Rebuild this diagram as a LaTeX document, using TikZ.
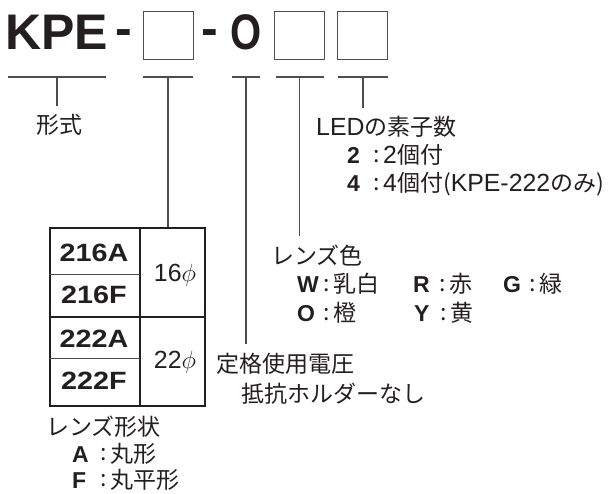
\documentclass[tikz,border=0pt]{standalone}
\usepackage{fontspec}
\setmainfont{Noto Sans CJK JP}
\newfontfamily\latfont[Scale=1.08]{Liberation Sans}
\newfontfamily\codefont[FakeStretch=1.15]{Liberation Sans}
\newfontfamily\headfont{Liberation Sans}
\usetikzlibrary{calc}

\definecolor{ink}{HTML}{231F20}
\definecolor{rule}{HTML}{4D4D4D}

\newcommand\lat[1]{{\latfont #1}}
% letter : text
\newcommand\opt[3][22pt]{\makebox[#1][l]{\headfont\bfseries #2}\makebox[14pt]{\raisebox{1.5pt}{:}}#3}

\tikzset{
  every node/.style={inner sep=0pt, text=ink},
  lbl/.style={font=\fontsize{23}{28}\selectfont, anchor=base west, outer ysep=9pt},
  code/.style={font=\fontsize{25}{30}\selectfont\codefont\bfseries, anchor=base},
  head/.style={font=\fontsize{50}{50}\selectfont\headfont\bfseries},
  slot/.style={draw=rule, line width=1pt, minimum width=50pt, minimum height=48pt},
  tee/.style={draw=rule, line width=1.1pt},
}

\begin{document}
\begin{tikzpicture}[x=1pt, y=-1pt]
  \useasboundingbox (0,0) rectangle (613,494);

  % model code
  \node[head, anchor=base west] (kpe) at (5,50) {KPE};
  \node[head, anchor=base] (dash1) at (124,46) {-};
  \node[slot] (box1) at (168,35.5) {};
  \node[head, anchor=base] (dash2) at (210,46) {-};
  \node[head, anchor=base] (zero) at (246,50) {\scalebox{0.8}[1]{O}};
  \node[slot] (box2) at (299,35.5) {};
  \node[slot] (box3) at (362,35.5) {};

  % tee bars
  \coordinate (m1) at (57,77);
  \coordinate (m2) at (168,77);
  \coordinate (m3) at (246,77);
  \coordinate (m4) at (299.5,77);
  \coordinate (m5) at (363,77);
  \draw[tee] ($(m1)+(-49,0)$) -- ($(m1)+(49,0)$);
  \draw[tee] ($(m2)+(-25,0)$) -- ($(m2)+(25,0)$);
  \draw[tee] ($(m3)+(-14,0)$) -- ($(m3)+(14,0)$);
  \draw[tee] ($(m4)+(-24,0)$) -- ($(m4)+(24,0)$);
  \draw[tee] ($(m5)+(-25,0)$) -- ($(m5)+(25,0)$);

  % type
  \node[lbl] (form) at (36,134) {形式};
  \draw[tee] (m1) -- (m1 |- form.north);

  % LED count
  \node[lbl] (led) at (316,136) {\lat{LED}の素子数};
  \node[lbl] (led2) at (347,164) {\opt{2}{\lat{2}個付}};
  \node[lbl] (led4) at (347,192) {\opt{4}{\lat{4}個付(\lat{KPE-222}のみ)}};
  \draw[tee] (m5) -- (m5 |- led.north);

  % lens colour
  \node[lbl] (color) at (271,265) {レンズ色};
  \node[lbl] (cw) at (297,293) {\opt{W}{乳白}};
  \node[lbl] (cr) at (413,293) {\opt{R}{赤}};
  \node[lbl] (cg) at (503,293) {\opt{G}{緑}};
  \node[lbl] (co) at (297,322) {\opt{O}{橙}};
  \node[lbl] (cy) at (414,322) {\opt{Y}{黄}};
  \draw[tee] (m4) -- (m4 |- color.north);

  % voltage
  \node[lbl] (volt) at (216,372) {定格使用電圧};
  \node[lbl] (volt2) at (241,402) {抵抗ホルダーなし};
  \draw[tee] (m3) -- (m3 |- volt.north);

  % size table
  \node[draw=ink, line width=1.8pt, minimum width=155pt, minimum height=178pt,
        anchor=north west] (tbl) at (49,227) {};
  \draw[draw=ink, line width=1.4pt] (140,227) -- (140,405);
  \draw[draw=ink, line width=1.4pt] (49,317) -- (204,317);
  \draw[draw=rule, line width=.8pt] (49,274) -- (140,274);
  \draw[draw=rule, line width=.8pt] (49,358) -- (140,358);
  \draw[tee] (m2) -- (m2 |- tbl.north);

  \node[code] (t216a) at (94,262) {216A};
  \node[code] (t216f) at (94,304) {216F};
  \node[code] (t222a) at (94,347) {222A};
  \node[code] (t222f) at (94,389) {222F};
  \node[lbl, anchor=base] (d16) at (175,282) {\lat{16}$\phi$};
  \node[lbl, anchor=base] (d22) at (175,368) {\lat{22}$\phi$};

  % lens shape
  \node[lbl] (shape) at (46,435) {レンズ形状};
  \node[lbl] (sa) at (72,462) {\opt[24pt]{A}{丸形}};
  \node[lbl] (sf) at (72,488) {\opt[24pt]{F}{丸平形}};
\end{tikzpicture}
\end{document}
